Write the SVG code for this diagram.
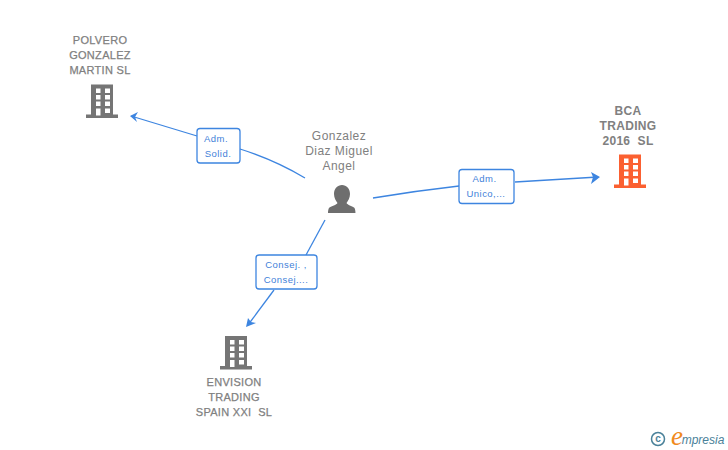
<svg xmlns="http://www.w3.org/2000/svg" width="728" height="450" viewBox="0 0 728 450">
<style>
text{font-family:"Liberation Sans",Arial,sans-serif;text-anchor:middle}
.n{font-size:11px;fill:#808080;letter-spacing:.3px;stroke:#808080;stroke-width:.25}
.h{font-size:12px;fill:#808080;font-weight:bold;letter-spacing:.3px}
.p{font-size:12px;fill:#808080;letter-spacing:.45px}
.l{font-size:9.5px;fill:#3f7fd9;letter-spacing:.45px}
.c{fill:none;stroke:#3d85e0;stroke-width:1.3}
.b{fill:#fff;stroke:#3d85e0;stroke-width:1.3}
.a{fill:#3d85e0}
</style>
<defs>
<g id="bld">
<path fill-rule="evenodd" d="M5 0H27V30H32V33.500H0V30H5ZM10 4V8.500H14.500V4ZM19 4V8.500H24V4ZM10 10.500V15H14.500V10.500ZM19 10.500V15H24V10.500ZM10 17V21.500H14.500V17ZM19 17V21.500H24V17ZM10 24V31H14.500V24ZM19 24V28.500H24V24Z"/>
</g>
</defs>
<rect width="728" height="450" fill="#fff"/>
<g id="connectors">
<path class="c" d="M305 178Q275 160 240 149"/>
<path class="c" d="M197 136L131 116"/>
<path class="a" d="M130 116L138 112L135 117L137 122Z"/>
<path class="c" d="M373 198Q415 191 459 186"/>
<path class="c" d="M515 182L598 177"/>
<path class="a" d="M600 177L591 172L593 177L591 184Z"/>
<path class="c" d="M325 220L306 255"/>
<path class="c" d="M274 290L248 325"/>
<path class="a" d="M246 327L248 318L251 322L256 323Z"/>
</g>
<g id="node-polvero">
<use href="#bld" x="86" y="84.500" fill="#757575"/>
<text class="n" x="100" y="44">POLVERO</text>
<text class="n" x="100" y="59">GONZALEZ</text>
<text class="n" x="100" y="74">MARTIN SL</text>
</g>
<g id="node-gonzalez">
<text class="p" x="339" y="140">Gonzalez</text>
<text class="p" x="339" y="155">Diaz Miguel</text>
<text class="p" x="339" y="170">Angel</text>
<path fill="#6e6e6e" d="M342 185C346.500 185 350 188.500 350 194C350 198 348 201 346.500 203C347.500 205 352 206 354 207.500C355.500 208.500 355.500 213 355.500 213H328C328 213 328 208.500 329.500 207.500C331.500 206 336.500 205 337.500 203C336 201 334 198 334 194C334 188.500 337.500 185 342 185Z"/>
</g>
<g id="node-bca">
<use href="#bld" x="614" y="154.500" fill="#fb6031"/>
<text class="h" x="628" y="115">BCA</text>
<text class="h" x="628" y="130">TRADING</text>
<text class="h" x="628" y="145" style="white-space:pre" xml:space="preserve">2016  SL</text>
</g>
<g id="node-envision">
<use href="#bld" x="220" y="336" fill="#757575"/>
<text class="n" x="234" y="386">ENVISION</text>
<text class="n" x="234" y="401">TRADING</text>
<text class="n" x="234" y="416" style="white-space:pre" xml:space="preserve">SPAIN XXI  SL</text>
</g>
<g id="label-solid">
<rect class="b" x="197" y="128.500" width="43" height="34.500" rx="3"/>
<text class="l" x="216" y="142">Adm.</text>
<text class="l" x="218" y="157">Solid.</text>
</g>
<g id="label-unico">
<rect class="b" x="459" y="169.500" width="55" height="34" rx="3"/>
<text class="l" x="484.500" y="182">Adm.</text>
<text class="l" x="486" y="197">Unico,...</text>
</g>
<g id="label-consej">
<rect class="b" x="256" y="255" width="61" height="34" rx="3"/>
<text class="l" x="286" y="268">Consej. ,</text>
<text class="l" x="286" y="283">Consej....</text>
</g>
<g id="credit">
<circle cx="658" cy="439" r="6.500" fill="none" stroke="#4a8199" stroke-width="1.500"/>
<text x="658" y="442" style="font-size:10px;fill:#4a8199;font-weight:bold">c</text>
<text x="677" y="445" style="font-family:'Liberation Serif',serif;font-size:27px;font-style:italic;fill:#f08a1d">e</text>
<text x="703" y="444" style="font-size:12px;font-style:italic;fill:#4a8199">mpresia</text>
</g>
</svg>
